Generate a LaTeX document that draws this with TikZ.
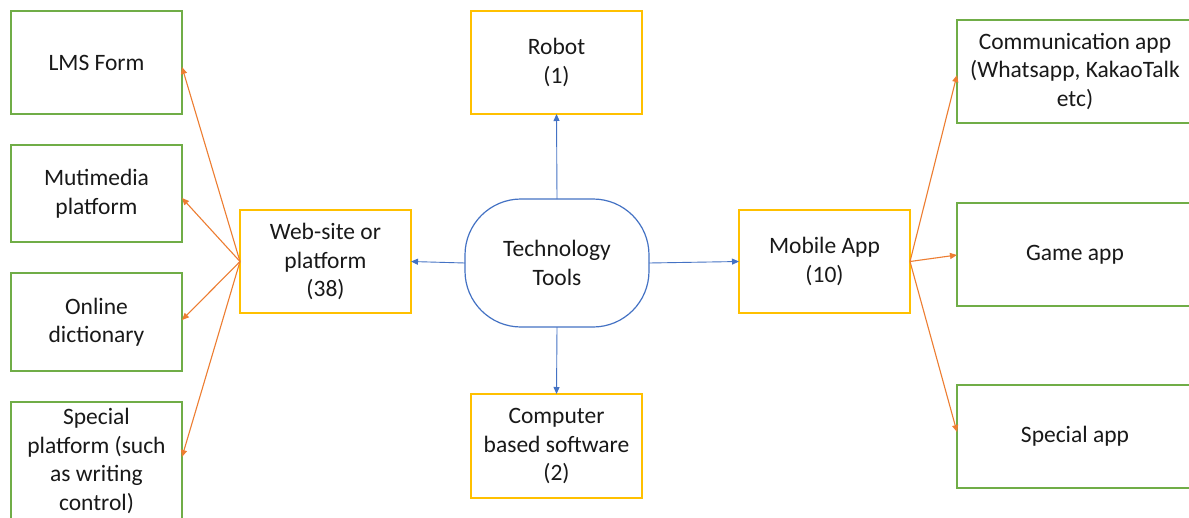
\documentclass[tikz,border=0pt]{standalone}
\usepackage{fontspec}
\setmainfont{Carlito}
\usetikzlibrary{arrows.meta}
\definecolor{boxgreen}{HTML}{70AD47}
\definecolor{boxyellow}{HTML}{FFC000}
\definecolor{linkblue}{HTML}{4472C4}
\definecolor{linkorange}{HTML}{ED7D31}
\tikzset{
  base/.style={inner sep=0pt, outer sep=0pt, align=center, font=\fontsize{23.5}{28.5}\selectfont, text=black!90},
  greenbox/.style={base, draw=boxgreen, line width=1.4pt, minimum width=171pt, minimum height=103pt},
  widegreen/.style={greenbox, minimum width=236pt},
  yellowbox/.style={base, draw=boxyellow, line width=1.4pt, minimum width=171pt, minimum height=103pt},
  techbox/.style={base, draw=linkblue, line width=1.2pt, minimum width=184pt, minimum height=128pt, rounded corners=56pt},
  bluearrow/.style={draw=linkblue, line width=0.9pt, -{Triangle[length=7pt,width=6pt]}},
  orangearrow/.style={draw=linkorange, line width=1.1pt, -{Triangle[length=7pt,width=6pt]}}
}
\begin{document}
\begin{tikzpicture}[x=1pt,y=-1pt]
\useasboundingbox (0,0) rectangle (1189,517);
\clip (0,0) rectangle (1189,517);
\fill[white] (0,0) rectangle (1189,517);
% left column
\node[greenbox] (lms) at (96.5,62.5) {LMS Form};
\node[greenbox, minimum height=97pt] (multi) at (96.5,193.5) {Mutimedia\\platform};
\node[greenbox, minimum height=98pt] (online) at (96.5,322) {Online\\dictionary};
\node[greenbox, minimum height=118pt] (special) at (96.5,461) {Special\\platform (such\\as writing\\control)};
% middle
\node[yellowbox] (web) at (325.5,261.5) {Web-site or\\platform\\(38)};
\node[yellowbox] (robot) at (556.5,62.5) {Robot\\(1)};
\node[techbox] (tech) at (557,263) {Technology\\Tools};
\node[yellowbox, minimum height=104pt] (comp) at (556.5,446) {Computer\\based software\\(2)};
\node[yellowbox] (mobile) at (824.5,261.5) {Mobile App\\(10)};
% right column
\node[widegreen] (comm) at (1075,71.5) {Communication app\\(Whatsapp, KakaoTalk\\etc)};
\node[widegreen] (game) at (1075,254.5) {Game app};
\node[widegreen] (sapp) at (1075,436.5) {Special app};
% blue connectors
\draw[bluearrow] (tech.north) -- (robot.south);
\draw[bluearrow] (tech.south) -- (comp.north);
\draw[bluearrow] (tech.west) -- (web.east);
\draw[bluearrow] (tech.east) -- (mobile.west);
% orange connectors
\draw[orangearrow] (web.west) -- ([yshift=-4.5pt]lms.east);
\draw[orangearrow] (web.west) -- ([yshift=-4.5pt]multi.east);
\draw[orangearrow] (web.west) -- ([yshift=2pt]online.east);
\draw[orangearrow] (web.west) -- ([yshift=4pt]special.east);
\draw[orangearrow] (mobile.east) -- ([yshift=-3.5pt]comm.west);
\draw[orangearrow] (mobile.east) -- ([yshift=-0.5pt]game.west);
\draw[orangearrow] (mobile.east) -- ([yshift=4.5pt]sapp.west);
\end{tikzpicture}
\end{document}
